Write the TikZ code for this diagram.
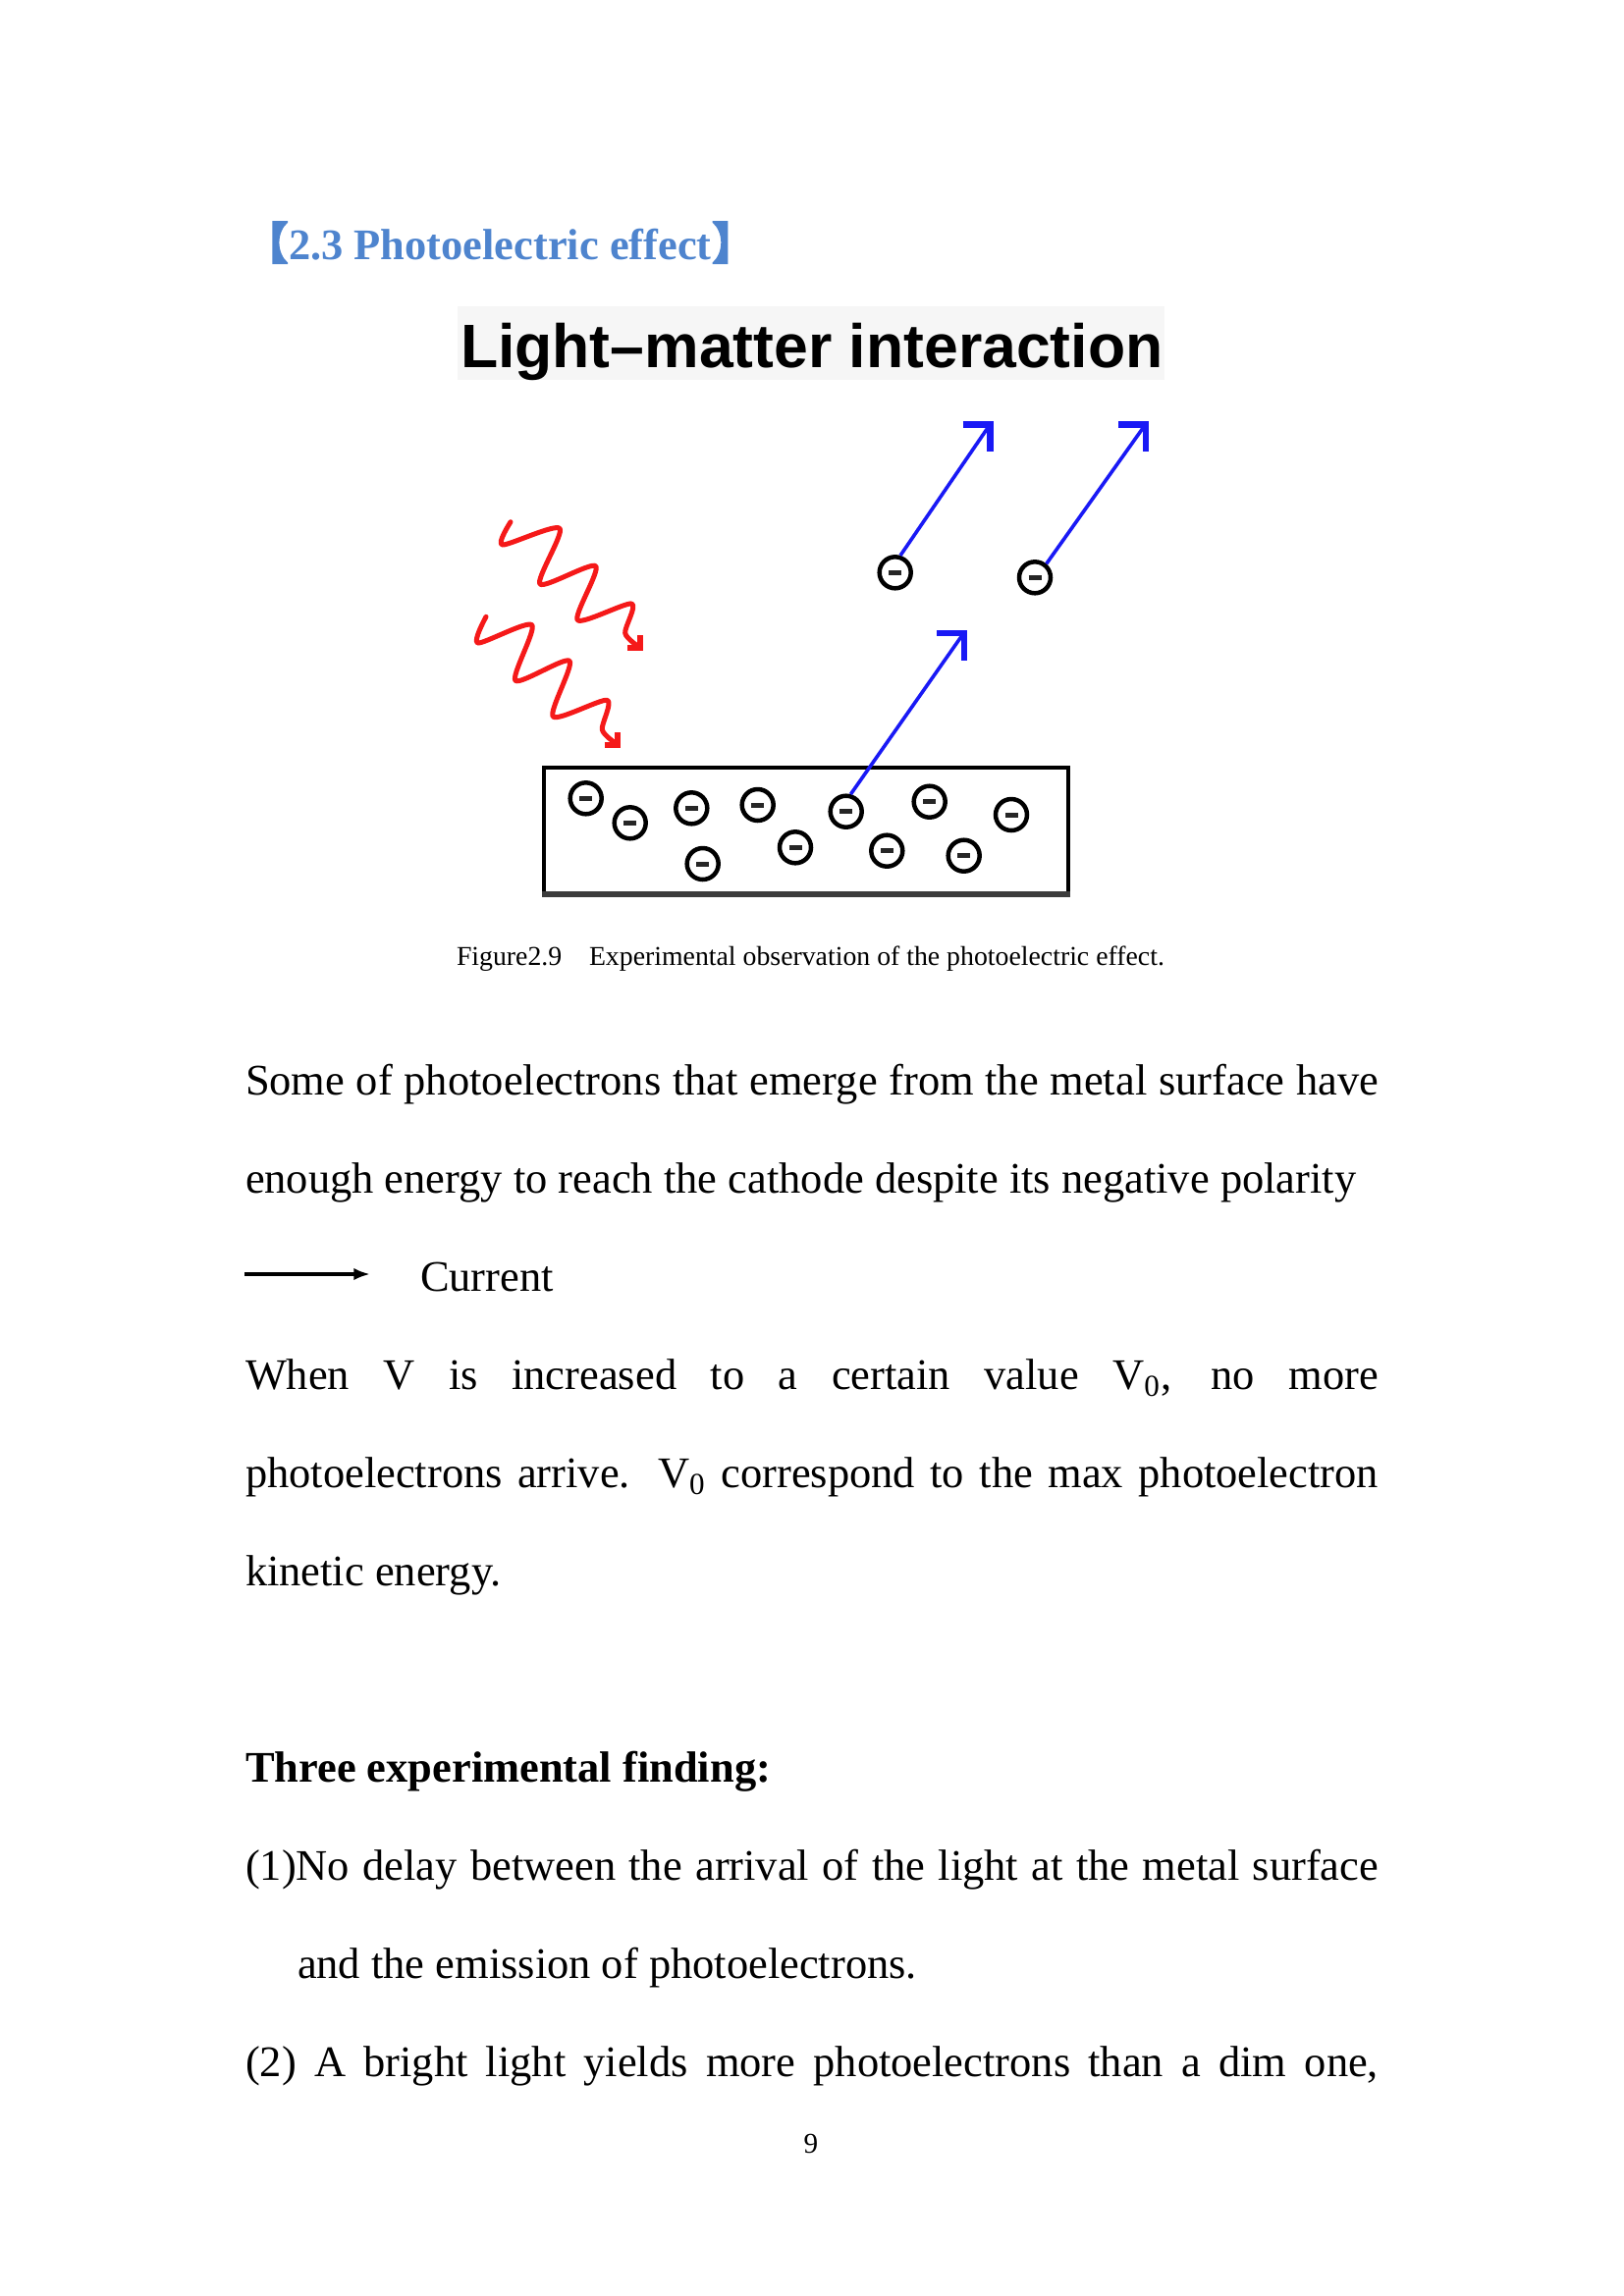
\documentclass[tikz,border=0pt]{standalone}
\usepackage{fontspec}
\setmainfont{Liberation Serif}[Ligatures={TeX,CommonOff}]
\newfontfamily\titlefont{Liberation Sans}
\newfontfamily\cjkfont{Noto Sans CJK SC}[FakeBold=4]
\usetikzlibrary{arrows.meta}
\newlength\pxu
\setlength\pxu{0.359901pt}
\definecolor{headblue}{RGB}{78,132,206}
\definecolor{titlebg}{RGB}{246,246,246}
\definecolor{eblue}{RGB}{25,25,245}
\definecolor{wred}{RGB}{245,25,25}
\definecolor{edgegray}{RGB}{60,60,60}
\newcommand\minusbar{\rule{13\pxu}{5\pxu}}
\newcommand\linew{\makebox[1154\pxu][s]}
\begin{document}
\begin{tikzpicture}[x=\pxu,y=-\pxu,
  txt/.style={anchor=base west,inner sep=0pt,outer sep=0pt},
  body/.style={txt,font=\fontsize{16pt}{19pt}\selectfont},
  caption/.style={txt,font=\fontsize{10pt}{12pt}\selectfont},
  bracket/.style={inner sep=0pt,text=headblue,font=\cjkfont\bfseries\fontsize{16pt}{19pt}\selectfont},
  electron/.style={circle,draw=black,line width=4.5\pxu,minimum size=32\pxu,inner sep=0pt,text=black!85},
  shaft/.style={draw=eblue,line width=3.6\pxu},
  headL/.style={draw=eblue,line width=6.5\pxu,line join=miter},
  wave/.style={draw=wred,line width=5\pxu,line join=round,line cap=round},
  whead/.style={draw=wred,line width=6\pxu,line join=miter},
  box/.style={draw=black,line width=4\pxu},
  curarrow/.style={draw=black,line width=1.3pt,-{Latex[length=6pt,width=4.5pt]}}
]
\useasboundingbox (0,0) rectangle (1654,2339);
\fill[white] (0,0) rectangle (1654,2339);

% header
\node[txt,font=\fontsize{16pt}{19pt}\selectfont\bfseries,text=headblue] (head) at (294,264) {2.3 Photoelectric effect};
\node[bracket,anchor=base east] (lb) at (head.base west) {【};
\node[bracket,anchor=base west] (rb) at (head.base east) {】};

% title
\fill[titlebg] (466,312) rectangle (1186,387);
\node[txt,font=\titlefont\bfseries\fontsize{22.5pt}{27pt}\selectfont] (title) at (469,374) {Light–matter interaction};

% red waves
\coordinate (w1s) at (520,531.7);
\coordinate (W1) at (655.3,663.3);
\draw[wave] plot[smooth,tension=0.45] coordinates {(w1s) (511.7,555) (570,538.3) (550,595) (606.7,576.7) (588.3,631.7) (643.3,615) (636.7,645) (651.3,659.3)};
\draw[whead] ([shift={(-16,-3)}]W1) -- ([shift={(-3,-3)}]W1) -- ([shift={(-3,-16)}]W1);
\coordinate (w2s) at (495,628.3);
\coordinate (W2) at (631.7,761.7);
\draw[wave] plot[smooth,tension=0.45] coordinates {(w2s) (486.7,655) (541.7,636.7) (525,693.3) (580,673.3) (563.3,730) (618.3,713.3) (613.3,743.3) (627.7,757.7)};
\draw[whead] ([shift={(-16,-3)}]W2) -- ([shift={(-3,-3)}]W2) -- ([shift={(-3,-16)}]W2);

% metal plate
\draw[box] (554,781.5) rectangle (1088,910.5);
\draw[edgegray,line width=6\pxu] (552,910.5) -- (1090,910.5);

% electrons in plate
\node[electron] (e1) at (596.7,813.3) {\minusbar};
\node[electron] (e2) at (641.7,838.3) {\minusbar};
\node[electron] (e3) at (704.3,823.3) {\minusbar};
\node[electron] (e4) at (771.7,820) {\minusbar};
\node[electron] (e5) at (861.7,826.7) {\minusbar};
\node[electron] (e6) at (946.7,816.7) {\minusbar};
\node[electron] (e7) at (1030,830) {\minusbar};
\node[electron] (e8) at (715.7,880) {\minusbar};
\node[electron] (e9) at (810,863.3) {\minusbar};
\node[electron] (e10) at (903.3,866.7) {\minusbar};
\node[electron] (e11) at (981.7,871.7) {\minusbar};

% free electrons
\node[electron] (f1) at (911.7,583.3) {\minusbar};
\node[electron] (f2) at (1054,588.3) {\minusbar};

% blue arrows
\coordinate (T1) at (1011.7,429.3);
\coordinate (T2) at (1170,429.3);
\coordinate (T3) at (985,641.7);
\draw[shaft] (f1.73) -- ([shift={(-4,4)}]T1);
\draw[shaft] (f2.50) -- ([shift={(-4,4)}]T2);
\draw[shaft] (e5.75) -- ([shift={(-4,4)}]T3);
\draw[headL] ([shift={(-31,3.25)}]T1) -- ([shift={(-3.25,3.25)}]T1) -- ([shift={(-3.25,31)}]T1);
\draw[headL] ([shift={(-31,3.25)}]T2) -- ([shift={(-3.25,3.25)}]T2) -- ([shift={(-3.25,31)}]T2);
\draw[headL] ([shift={(-31,3.25)}]T3) -- ([shift={(-3.25,3.25)}]T3) -- ([shift={(-3.25,31)}]T3);

% caption
\node[caption] (cap1) at (465,983) {Figure2.9};
\node[caption] (cap2) at (600,983) {Experimental observation of the photoelectric effect.};

% body text
\node[body] (l1) at (250,1115) {\linew{Some of photoelectrons that emerge from the metal surface have}};
\node[body] (l2) at (250,1215) {enough energy to reach the cathode despite its negative polarity};
\coordinate (ca) at (249,1298);
\coordinate (cb) at (377,1298);
\draw[curarrow] (ca) -- (cb);
\node[body] (l3) at (428,1315) {Current};
\node[body] (l4) at (250,1415) {\linew{When V is increased to a certain value V\textsubscript{0}, no more}};
\node[body] (l5) at (250,1515) {\linew{photoelectrons arrive. V\textsubscript{0} correspond to the max photoelectron}};
\node[body] (l6) at (250,1615) {kinetic energy.};
\node[body,font=\fontsize{16pt}{19pt}\selectfont\bfseries] (l7) at (250,1815) {Three experimental finding:};
\node[body] (l8) at (250,1915) {\linew{(1)No delay between the arrival of the light at the metal surface}};
\node[body] (l9) at (303,2015) {and the emission of photoelectrons.};
\node[body] (l10) at (250,2115) {\linew{(2) A bright light yields more photoelectrons than a dim one,}};

% page number
\node[anchor=base,inner sep=0pt,font=\fontsize{10.5pt}{12pt}\selectfont] (pg) at (826,2193) {9};
\end{tikzpicture}
\end{document}
